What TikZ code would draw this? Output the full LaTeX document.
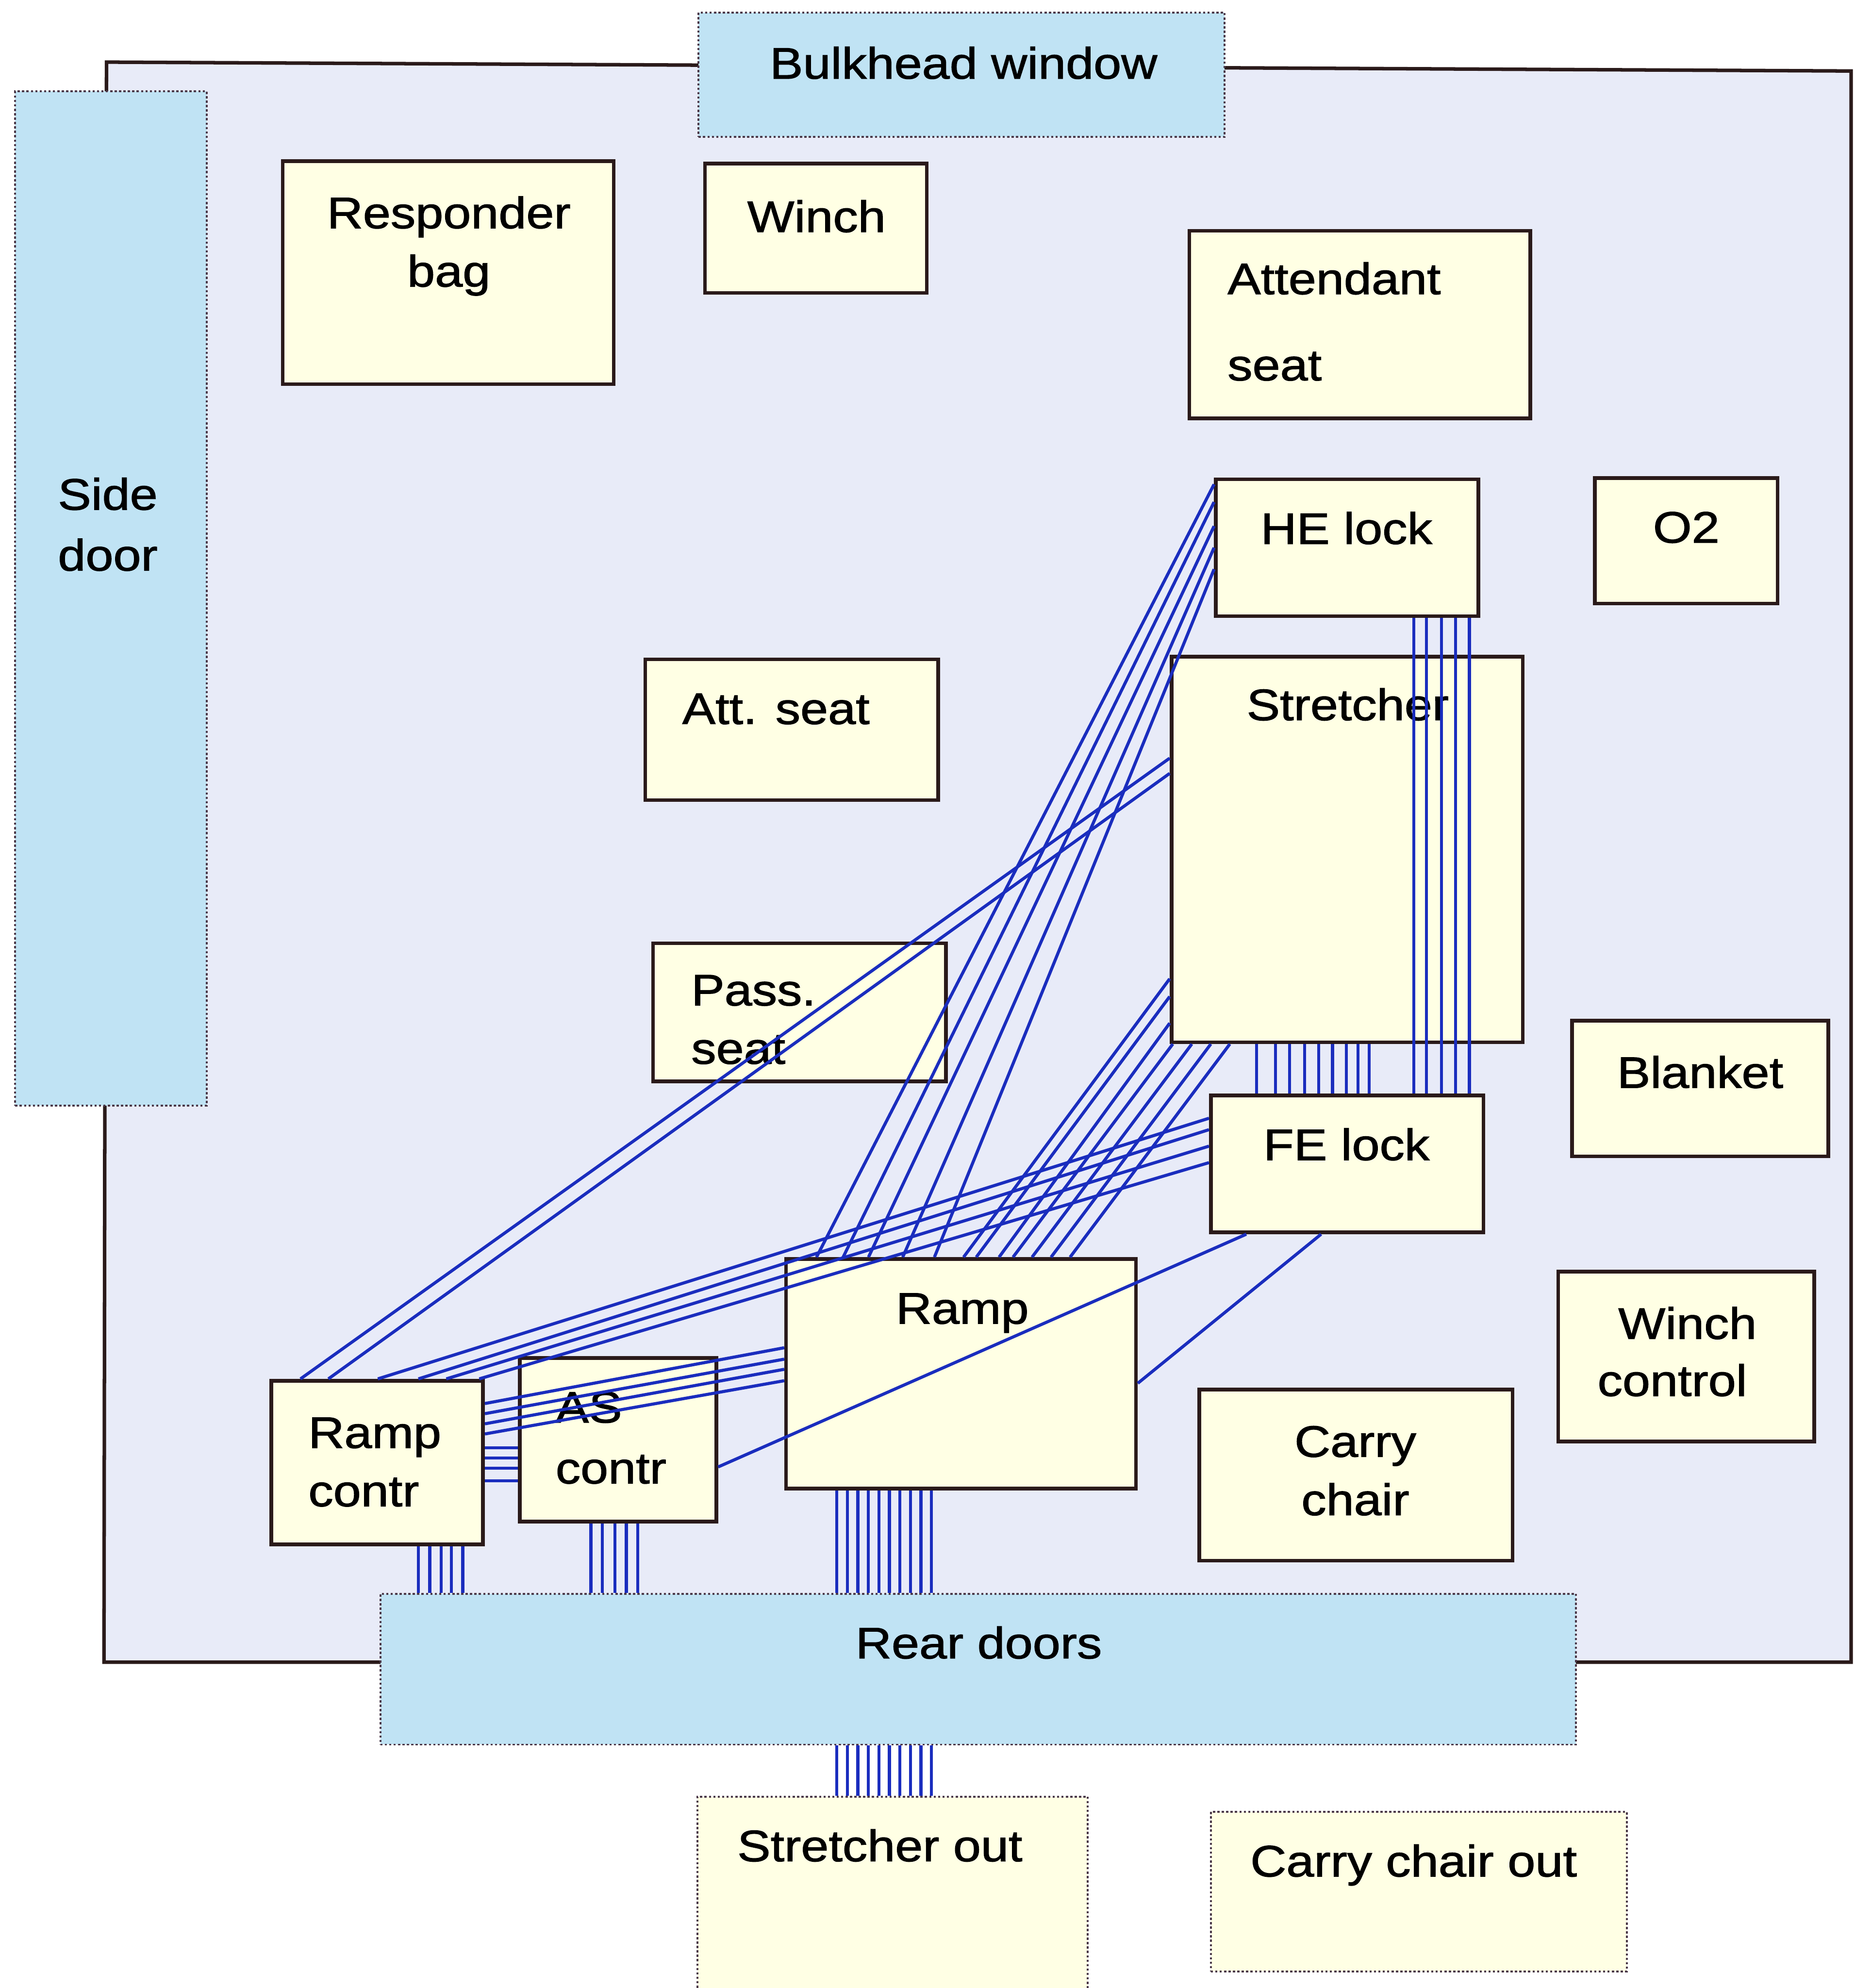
\documentclass[tikz,border=0pt]{standalone}
\usepackage{fontspec}
\setmainfont{Liberation Sans}[FakeStretch=1.13, FakeBold=1.4]
\usetikzlibrary{fit}

\definecolor{cabin}{HTML}{E8EBF8}
\definecolor{cream}{HTML}{FFFFE4}
\definecolor{door}{HTML}{C0E3F4}
\definecolor{wire}{HTML}{1A2DBE}
\definecolor{edge}{HTML}{2A1A1A}
\definecolor{dots}{HTML}{4A3848}

\tikzset{
  obj/.style={draw=edge, line width=2.5pt, fill=cream, inner sep=0pt},
  opening/.style={draw=dots, line width=1.3pt, dash pattern=on 1.5pt off 1.5pt, fill=door, inner sep=0pt},
  outzone/.style={opening, fill=cream},
  txt/.style={inner sep=0pt, font=\fontsize{30}{35}\selectfont, anchor=base},
  txtl/.style={txt, anchor=base west},
  wire/.style={draw=wire, line width=2.1pt},
}

\begin{document}
\begin{tikzpicture}[x=0.030335cm, y=-0.030335cm]
\useasboundingbox (0,0) rectangle (1463,1568);
\fill[white] (0,0) rectangle (1463,1568);

% cabin floor outline
\draw[fill=cabin, draw=edge, line width=2.4pt] (84,49) -- (1460,56) -- (1460,1311) -- (82,1311) -- cycle;

% doors and window
\node[opening, fit={(12,72) (163,872)}] (side) {};
\node[opening, fit={(551,10) (966,108)}] (bulk) {};
\node[opening, fit={(300,1257) (1243,1376)}] (rear) {};
\node[outzone, fit={(550,1417) (858,1580)}] (sout) {};
\node[outzone, fit={(955,1429) (1283,1555)}] (cout) {};

% equipment
\node[obj, fit={(223,127) (484,303)}] (resp) {};
\node[obj, fit={(556,129) (731,231)}] (winch) {};
\node[obj, fit={(938,182) (1207,330)}] (att) {};
\node[obj, fit={(959,378) (1166,486)}] (he) {};
\node[obj, fit={(1258,377) (1402,476)}] (otwo) {};
\node[obj, fit={(509,520) (740,631)}] (attseat) {};
\node[obj, fit={(924,518) (1201,822)}] (stre) {};
\node[obj, fit={(515,744) (746,853)}] (pass) {};
\node[obj, fit={(1240,805) (1442,912)}] (blanket) {};
\node[obj, fit={(955,864) (1170,972)}] (fe) {};
\node[obj, fit={(1229,1003) (1431,1137)}] (wctl) {};
\node[obj, fit={(620,993) (896,1174)}] (ramp) {};
\node[obj, fit={(946,1096) (1193,1231)}] (carry) {};
\node[obj, fit={(214,1089) (381,1218)}] (rctl) {};
\node[obj, fit={(410,1071) (565,1200)}] (asc) {};

% labels
\node[txt] (bulk-t) at (760,62) {Bulkhead window};
\node[txt] (side-t1) at (85,402) {Side};
\node[txt] (side-t2) at (85,450) {door};
\node[txt] (resp-t1) at (354,180) {Responder};
\node[txt] (resp-t2) at (354,226) {bag};
\node[txt] (winch-t) at (644,183) {Winch};
\node[txtl] (att-t1) at (968,232) {Attendant};
\node[txtl] (att-t2) at (968,300) {seat};
\node[txt] (he-t) at (1062,429) {HE lock};
\node[txt] (otwo-t) at (1330,428) {O2};
\node[txt] (attseat-t) at (612,571) {Att. seat};
\node[txt] (stre-t) at (1063,568) {Stretcher};
\node[txtl] (pass-t1) at (545,793) {Pass.};
\node[txtl] (pass-t2) at (545,839) {seat};
\node[txt] (blanket-t) at (1341,858) {Blanket};
\node[txt] (fe-t) at (1062,915) {FE lock};
\node[txt] (wctl-t1) at (1331,1056) {Winch};
\node[txt] (wctl-t2) at (1319,1101) {control};
\node[txt] (ramp-t) at (759,1044) {Ramp};
\node[txt] (carry-t1) at (1069,1149) {Carry};
\node[txt] (carry-t2) at (1069,1195) {chair};
\node[txtl] (rctl-t1) at (243,1142) {Ramp};
\node[txtl] (rctl-t2) at (243,1188) {contr};
\node[txtl] (asc-t1) at (438,1122) {AS};
\node[txtl] (asc-t2) at (438,1170) {contr};
\node[txt] (rear-t) at (772,1308) {Rear doors};
\node[txt] (sout-t) at (694,1468) {Stretcher out};
\node[txt] (cout-t) at (1115,1480) {Carry chair out};

% wiring: HE lock to ramp
\foreach \ya/\xb in {382/644, 396/665, 415/685, 432/712, 449/737}
  \draw[wire] (he.west |- 0,\ya) -- (ramp.north -| \xb,0);
% stretcher to ramp
\foreach \ya/\xb in {772/760, 786/770, 807/788}
  \draw[wire] (stre.west |- 0,\ya) -- (ramp.north -| \xb,0);
\foreach \xa/\xb in {925/799, 940/814, 955/829, 970/844}
  \draw[wire] (stre.south -| \xa,0) -- (ramp.north -| \xb,0);
% stretcher to ramp controller
\foreach \ya/\xb in {598/237, 610/259}
  \draw[wire] (stre.west |- 0,\ya) -- (rctl.north -| \xb,0);
% FE lock to ramp controller
\foreach \ya/\xb in {882/298, 891/330, 904/352, 917/378}
  \draw[wire] (fe.west |- 0,\ya) -- (rctl.north -| \xb,0);
% ramp controller to ramp
\foreach \ya/\yb in {1107/1063, 1115/1072, 1123/1080, 1131/1089}
  \draw[wire] (rctl.east |- 0,\ya) -- (ramp.west |- 0,\yb);
% ramp controller to AS controller
\foreach \ya in {1142, 1150, 1158, 1168}
  \draw[wire] (rctl.east |- 0,\ya) -- (asc.west |- 0,\ya);
% FE lock to AS controller and ramp
\draw[wire] (fe.south -| 983,0) -- (asc.east |- 0,1157);
\draw[wire] (fe.south -| 1042,0) -- (ramp.east |- 0,1091);
% stretcher to FE lock
\foreach \x in {991,1006,1017,1029,1040,1051,1062,1071,1080}
  \draw[wire] (stre.south -| \x,0) -- (fe.north -| \x,0);
% HE lock to FE lock
\foreach \x in {1115,1125,1137,1148,1159}
  \draw[wire] (he.south -| \x,0) -- (fe.north -| \x,0);
% to rear doors
\foreach \x in {330,339,348,356,365}
  \draw[wire] (rctl.south -| \x,0) -- (rear.north -| \x,0);
\foreach \x in {466,475,485,494,503}
  \draw[wire] (asc.south -| \x,0) -- (rear.north -| \x,0);
\foreach \x in {660,668.3,...,736}
  \draw[wire] (ramp.south -| \x,0) -- (rear.north -| \x,0);
\foreach \x in {660,668.3,...,736}
  \draw[wire] (rear.south -| \x,0) -- (sout.north -| \x,0);
\end{tikzpicture}
\end{document}
